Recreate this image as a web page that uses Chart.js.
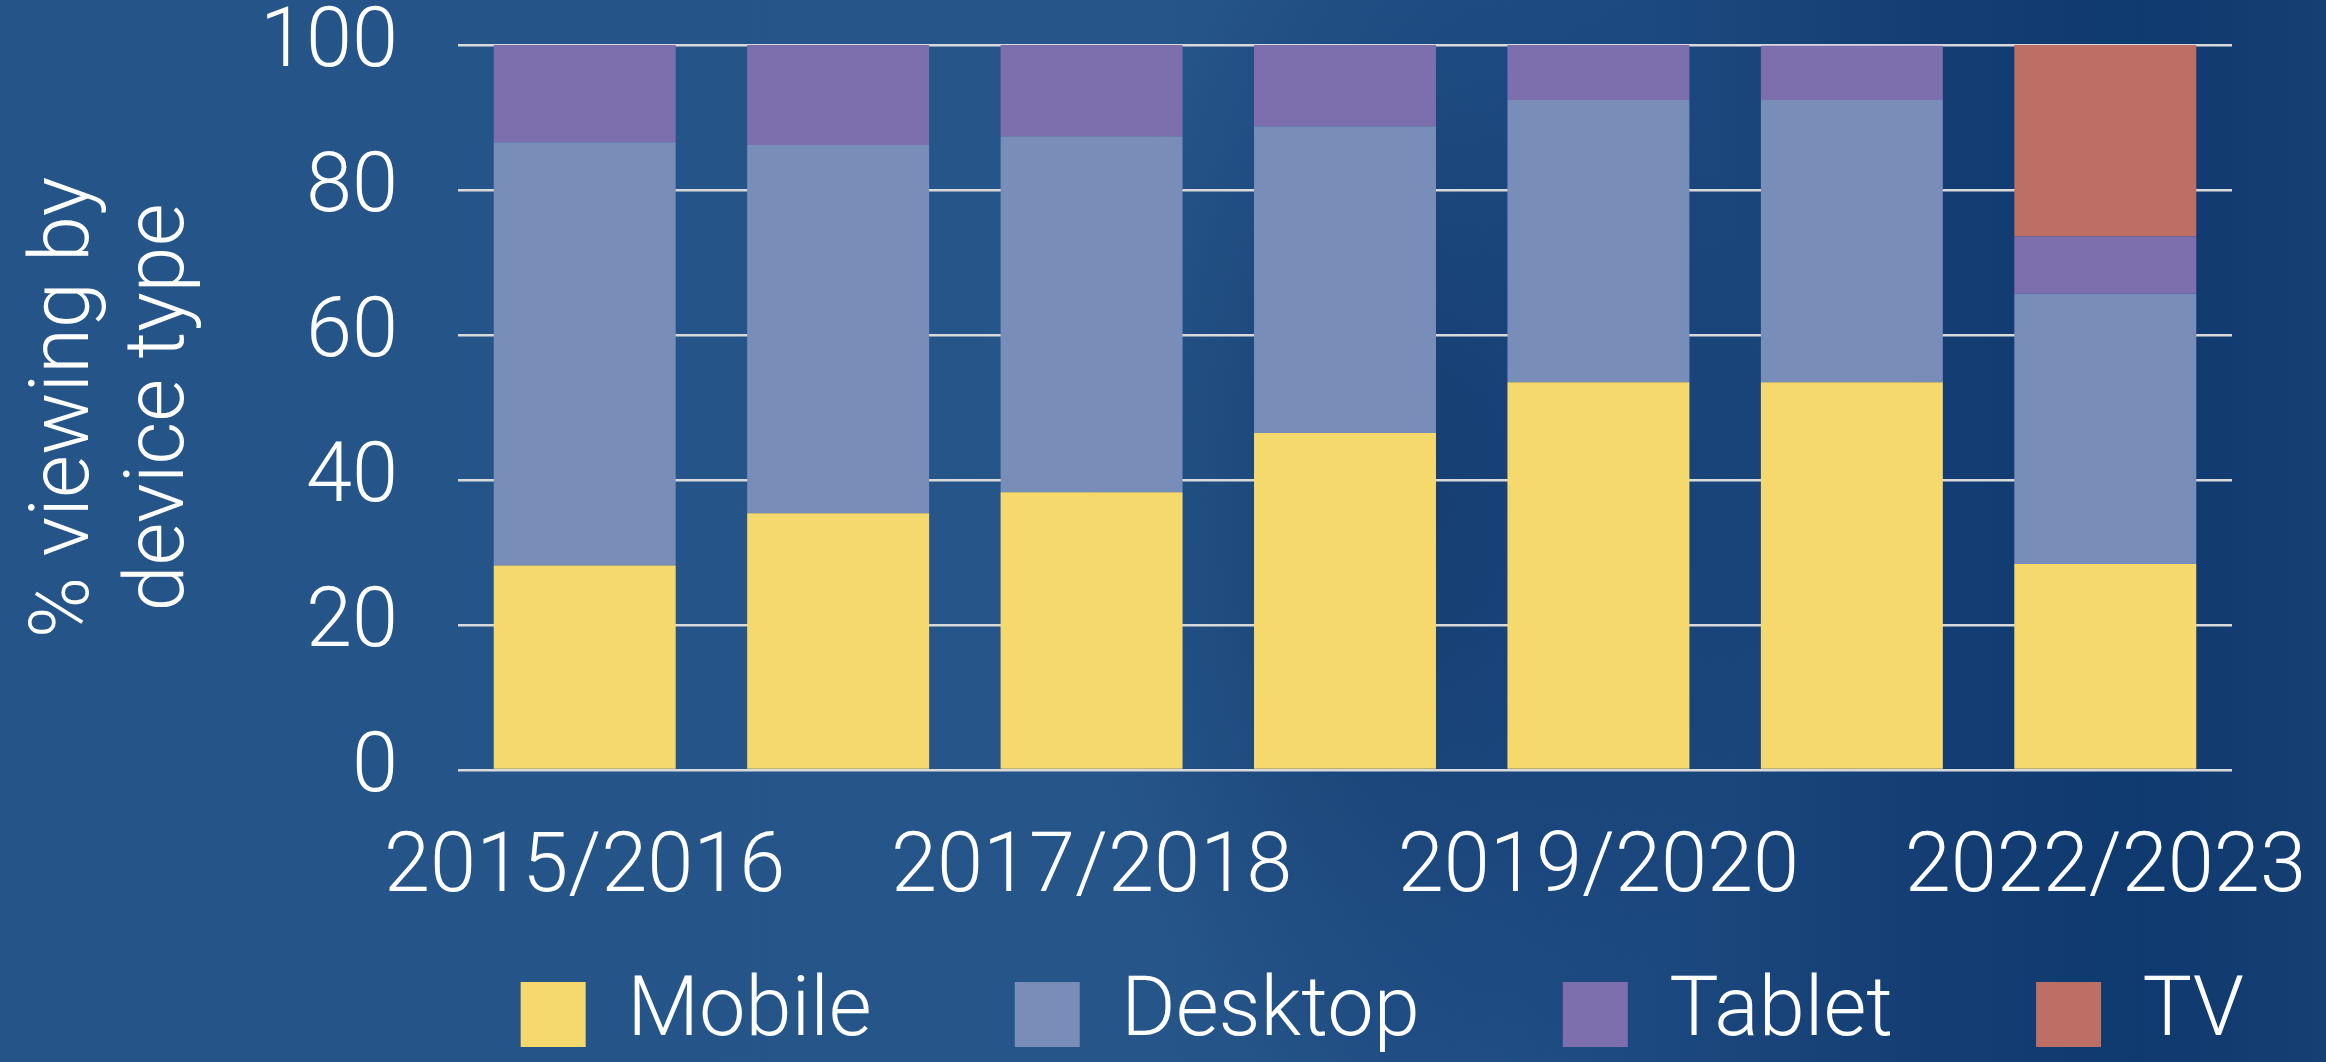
<!DOCTYPE html>
<html lang="en">
<head>
  <meta charset="UTF-8">
  <title>Viewing by device type</title>
  <style>
    html, body {
      margin: 0;
      padding: 0;
    }
    body {
      width: 2326px;
      height: 1062px;
      overflow: hidden;
      background:
        radial-gradient(ellipse 500px 900px at 1420px 500px, rgba(8, 40, 90, 0.45), rgba(8, 40, 90, 0) 70%),
        linear-gradient(90deg, #255488 0%, #265589 50%, #1f4e85 65%, #153f74 82%, #0f3a6f 92%, #163f73 100%);
    }
    #chartContainer {
      position: relative;
      width: 2326px;
      height: 1062px;
    }
  </style>
  <script src="https://cdn.jsdelivr.net/npm/chart.js"></script>
</head>
<body>
  <div id="chartContainer">
    <canvas id="chartCanvas"></canvas>
  </div>

  <script>
    // seasons (only every other label is shown on the axis)
    const seasons = ["2015/2016", "2016/2017", "2017/2018", "2018/2019", "2019/2020", "2020/2021", "2022/2023"];

    // % viewing by device type
    const mobile  = [28.2, 35.4, 38.3, 46.5, 53.5, 53.5, 28.4];
    const desktop = [58.4, 50.8, 49.1, 42.3, 38.9, 38.9, 37.3];
    const tablet  = [13.4, 13.8, 12.6, 11.2, 7.6, 7.5, 7.9];
    const tv      = [0, 0, 0, 0, 0, 0, 26.4];

    const yTicks = [0, 20, 40, 60, 80, 100];

    Chart.defaults.font.family = "Roboto, 'Liberation Sans', sans-serif";
    Chart.defaults.font.weight = "300";
    Chart.defaults.font.size = 83;
    Chart.defaults.color = "#ffffff";

    // the legend sits further right than chart.js puts it, and the
    // x labels hang down into the legend's empty top padding
    const placeLegend = {
      id: "placeLegend",
      afterLayout(chart) {
        const lg = chart.legend;
        lg.left += 155;
        lg.right += 155;
        lg.top += 4;
        lg.bottom += 4;
        chart.scales.x._computeLabelArea = function () { return undefined; };
      }
    };

    const ctx = document.getElementById("chartCanvas").getContext("2d");

    new Chart(ctx, {
      type: "bar",
      data: {
        labels: seasons,
        datasets: [
          { label: "Mobile",  data: mobile,  backgroundColor: "#f5d96c" },
          { label: "Desktop", data: desktop, backgroundColor: "#788db8" },
          { label: "Tablet",  data: tablet,  backgroundColor: "#7d6ead" },
          { label: "TV",      data: tv,      backgroundColor: "#bd6f66" }
        ]
      },
      plugins: [placeLegend],
      options: {
        responsive: true,
        maintainAspectRatio: false,
        animation: false,
        events: [],
        layout: {
          padding: { top: 0, right: 94, bottom: 0, left: 0 }
        },
        datasets: {
          bar: {
            categoryPercentage: 1.0,
            barPercentage: 0.718,
            borderWidth: 0
          }
        },
        plugins: {
          legend: {
            position: "bottom",
            align: "end",
            labels: {
              boxWidth: 65,
              boxHeight: 65,
              padding: 143,
              color: "#ffffff",
              font: { size: 83, weight: "300" }
            }
          },
          tooltip: { enabled: false }
        },
        scales: {
          x: {
            stacked: true,
            grid: { display: false, drawTicks: false },
            border: { display: false },
            afterFit: function (scale) {
              scale.height = 56;
              scale.paddingLeft = 0;
              scale.paddingRight = 0;
            },
            ticks: {
              autoSkip: false,
              maxRotation: 0,
              padding: 50,
              color: "#ffffff",
              callback: function (value, index) {
                return index % 2 === 0 ? this.getLabelForValue(value) : "";
              }
            }
          },
          y: {
            stacked: true,
            min: 0,
            max: 100,
            afterFit: function (scale) {
              scale.width = 458;
              scale.paddingTop = 45;
              scale.paddingBottom = 0;
            },
            afterBuildTicks: function (scale) {
              scale.ticks = yTicks.map(v => ({ value: v }));
            },
            grid: {
              color: "#d9d9d9",
              lineWidth: 2.5,
              drawTicks: false
            },
            border: { display: false },
            ticks: {
              padding: 60,
              color: "#ffffff"
            },
            title: {
              display: true,
              text: ["% viewing by", "device type"],
              color: "#ffffff",
              padding: { top: 20, bottom: 0 },
              font: { size: 83, weight: "300", lineHeight: 1.145 }
            }
          }
        }
      }
    });
  </script>
</body>
</html>
